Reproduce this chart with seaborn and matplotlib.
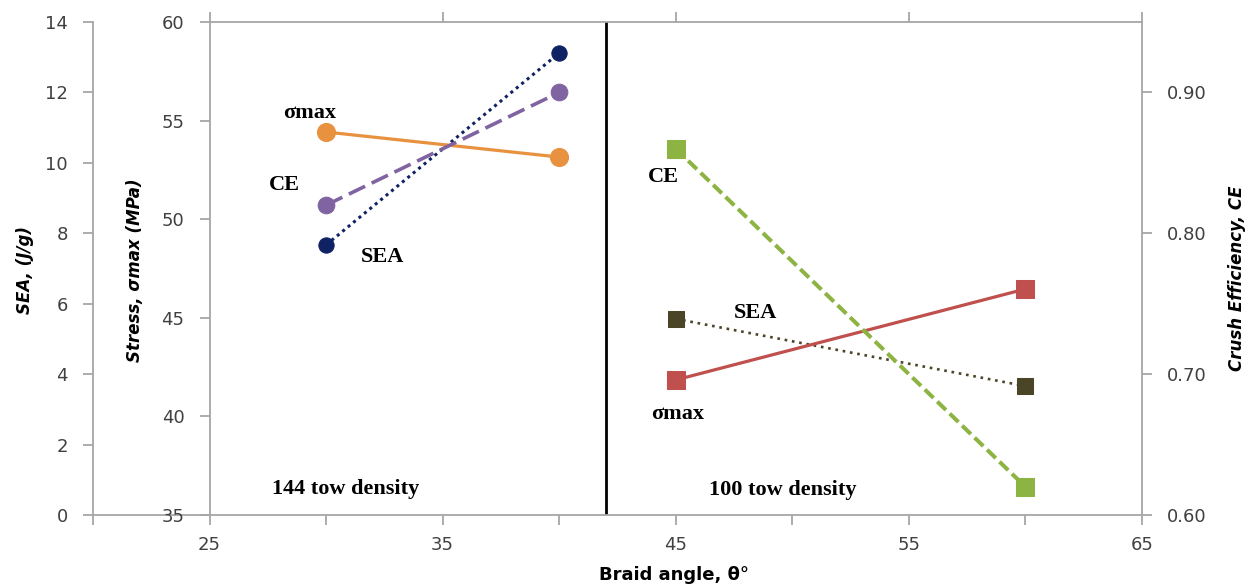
import matplotlib
matplotlib.use("Agg")
import matplotlib.pyplot as plt
import seaborn as sns
import pandas as pd
from matplotlib.ticker import FixedLocator, FormatStrFormatter

# ---------------- data ----------------
angle_144 = [30, 40]
sea_144 = [7.67, 13.12]
stress_144 = [54.42, 53.15]
ce_144 = [0.820, 0.900]

angle_100 = [45, 60]
sea_100 = [5.57, 3.66]
stress_100 = [41.85, 46.46]
ce_100 = [0.860, 0.620]

x_ticks = [25, 35, 45, 55, 65]
x_minor = [20, 30, 40, 50, 60]
sea_ticks = [0, 2, 4, 6, 8, 10, 12, 14]
stress_ticks = [35, 40, 45, 50, 55, 60]
ce_ticks = [0.60, 0.70, 0.80, 0.90]

# ---------------- style ----------------
sns.set_style("white")
plt.rcParams['font.family'] = ['DejaVu Sans']

W, H = 1247, 586
fig = plt.figure(figsize=(W / 100, H / 100), dpi=100)

L, R, T, B = 93, 1142, 22, 515
ax = fig.add_axes([L / W, 1 - B / H, (R - L) / W, (B - T) / H])
ax_st = ax.twinx()
ax_ce = ax.twinx()

spine_c = '#A6A6A6'
tick_c = '#404040'
tfs = 13

# ---- main (SEA) axis ----
ax.set_xlim(20, 65)
ax.set_ylim(0, 14)
for s in ['left', 'bottom', 'top', 'right']:
    ax.spines[s].set_color(spine_c)
    ax.spines[s].set_linewidth(1.3)
ax.spines['right'].set_visible(False)
ax.spines['top'].set_bounds(25, 65)
ax.xaxis.set_major_locator(FixedLocator(x_ticks))
ax.xaxis.set_minor_locator(FixedLocator(x_minor))
ax.set_yticks(sea_ticks)
ax.tick_params(axis='x', which='major', direction='out', length=7, width=1.3,
               color=spine_c, labelcolor=tick_c, labelsize=tfs, pad=8,
               top=True, bottom=True)
ax.tick_params(axis='x', which='minor', direction='out', length=7, width=1.3,
               color=spine_c, top=False, bottom=True)
ax.tick_params(axis='y', direction='out', length=7, width=1.3, color=spine_c,
               labelcolor=tick_c, labelsize=tfs, pad=11, left=True)
ax.grid(False)

# ---- stress axis (inner left) ----
ax_st.set_ylim(35, 60)
ax_st.yaxis.tick_left()
ax_st.spines['left'].set_position(('data', 25))
ax_st.spines['left'].set_visible(True)
ax_st.spines['left'].set_color(spine_c)
ax_st.spines['left'].set_linewidth(1.3)
for s in ['right', 'top', 'bottom']:
    ax_st.spines[s].set_visible(False)
ax_st.set_yticks(stress_ticks)
ax_st.tick_params(axis='y', direction='out', length=7, width=1.3, color=spine_c,
                  labelcolor=tick_c, labelsize=tfs, pad=11, left=True, right=False)
ax_st.grid(False)

# ---- CE axis (right) ----
ax_ce.set_ylim(0.60, 0.95)
for s in ['left', 'top', 'bottom']:
    ax_ce.spines[s].set_visible(False)
ax_ce.spines['right'].set_color(spine_c)
ax_ce.spines['right'].set_linewidth(1.3)
ax_ce.set_yticks(ce_ticks)
ax_ce.yaxis.set_major_formatter(FormatStrFormatter('%.2f'))
ax_ce.tick_params(axis='y', direction='out', length=7, width=1.3, color=spine_c,
                  labelcolor=tick_c, labelsize=tfs, pad=11)
ax_ce.grid(False)

# divider line
ax.axvline(42, color='black', lw=2, zorder=1)

# ---------------- series ----------------
c_orange = '#E8923F'
c_purple = '#8064A2'
c_navy = '#0F2263'
c_red = '#C0504D'
c_green = '#8DB443'
c_olive = '#4A4526'

sns.lineplot(x=angle_144, y=stress_144, ax=ax_st, color=c_orange, lw=2.3,
             marker='o', markersize=13, markeredgecolor=c_orange, linestyle='-')
sns.lineplot(x=angle_144, y=ce_144, ax=ax_ce, color=c_purple, lw=2.6,
             marker='o', markersize=12, markeredgecolor=c_purple,
             linestyle=(0, (5, 2)))
sns.lineplot(x=angle_144, y=sea_144, ax=ax, color=c_navy, lw=2.2,
             marker='o', markersize=11, markeredgecolor=c_navy,
             linestyle=(0, (1, 1.3)))

sns.lineplot(x=angle_100, y=stress_100, ax=ax_st, color=c_red, lw=2.3,
             marker='s', markersize=13, markeredgecolor=c_red, linestyle='-')
sns.lineplot(x=angle_100, y=ce_100, ax=ax_ce, color=c_green, lw=2.9,
             marker='s', markersize=13, markeredgecolor=c_green,
             linestyle=(0, (3, 1.3)))
sns.lineplot(x=angle_100, y=sea_100, ax=ax, color=c_olive, lw=1.9,
             marker='s', markersize=12, markeredgecolor=c_olive,
             linestyle=(0, (1, 1.8)))

for a in (ax, ax_st, ax_ce):
    a.set_xlabel('')
    a.set_ylabel('')
ax.set_xlim(20, 65)

# ---------------- annotations ----------------
serif = dict(family='Liberation Serif', fontweight='bold', fontsize=16,
             ha='center', va='center', color='black')
ax.text(29.3, 11.42, 'σmax', **serif)
ax.text(28.2, 9.37, 'CE', **serif)
ax.text(32.4, 7.33, 'SEA', **serif)
ax.text(44.45, 9.60, 'CE', **serif)
ax.text(48.4, 5.74, 'SEA', **serif)
ax.text(45.1, 2.87, 'σmax', **serif)
ax.text(49.6, 0.71, '100 tow density', **serif)
ax.text(30.85, 0.74, '144 tow density', **serif)

# ---------------- axis titles ----------------
lab = dict(fontweight='bold', fontsize=12, color='black', ha='center', va='center')
fig.text(25 / W, 1 - 270 / H, 'SEA, (J/g)', rotation=90, style='italic', **lab)
fig.text(135 / W, 1 - 270 / H, 'Stress, σmax (MPa)', rotation=90, style='italic', **lab)
fig.text(1237 / W, 1 - 278 / H, 'Crush Efficiency, CE', rotation=90, style='italic', **lab)
fig.text(674 / W, 1 - 575 / H, 'Braid angle, θ°', fontweight='bold', fontsize=13,
         color='black', ha='center', va='center')

fig.savefig('out.png', dpi=100)
